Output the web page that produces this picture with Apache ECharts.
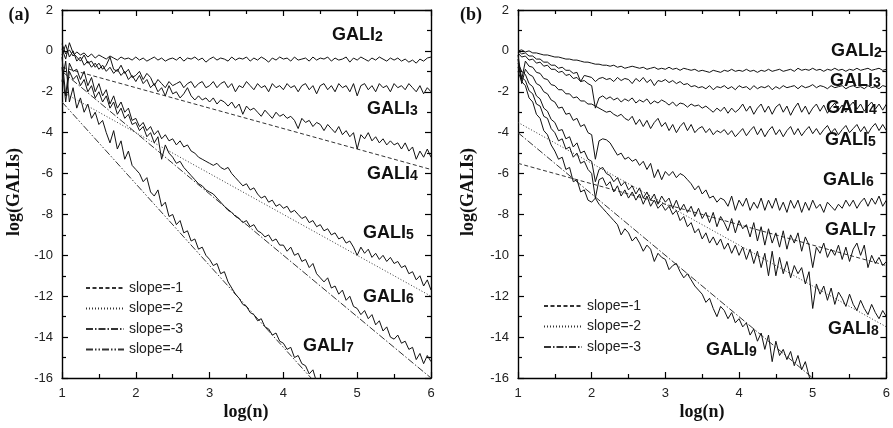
<!DOCTYPE html>
<html><head><meta charset="utf-8">
<script src="https://cdn.jsdelivr.net/npm/echarts@6/dist/echarts.min.js"></script>
<style>html,body{margin:0;padding:0;background:#fff}#c{width:893px;height:428px}</style>
</head><body><div id="c"></div>
<script>
// ---- shared x grid: log(n) ----
const logN = [1.00,1.05,1.10,1.15,1.20,1.25,1.30,1.35,1.40,1.45,
  1.50,1.55,1.60,1.65,1.70,1.75,1.80,1.85,1.90,1.95,
  2.00,2.05,2.10,2.15,2.20,2.25,2.30,2.35,2.40,2.45,
  2.50,2.55,2.60,2.65,2.70,2.75,2.80,2.85,2.90,2.95,
  3.00,3.05,3.10,3.15,3.20,3.25,3.30,3.35,3.40,3.45,
  3.50,3.55,3.60,3.65,3.70,3.75,3.80,3.85,3.90,3.95,
  4.00,4.05,4.10,4.15,4.20,4.25,4.30,4.35,4.40,4.45,
  4.50,4.55,4.60,4.65,4.70,4.75,4.80,4.85,4.90,4.95,
  5.00,5.05,5.10,5.15,5.20,5.25,5.30,5.35,5.40,5.45,
  5.50,5.55,5.60,5.65,5.70,5.75,5.80,5.85,5.90,5.95,
  6.00];

// ---- panel (a) ----
const aGALI2 = [0.35,-0.15,0.05,-0.25,-0.05,-0.2,-0.1,-0.3,-0.15,-0.35,
  -0.2,-0.3,-0.4,-0.25,-0.35,-0.45,-0.3,-0.4,-0.35,-0.45,
  -0.3,-0.45,-0.35,-0.5,-0.4,-0.3,-0.45,-0.35,-0.5,-0.4,
  -0.35,-0.45,-0.3,-0.5,-0.35,-0.4,-0.3,-0.45,-0.35,-0.55,
  -0.4,-0.3,-0.45,-0.35,-0.4,-0.5,-0.3,-0.45,-0.35,-0.4,
  -0.3,-0.5,-0.35,-0.45,-0.3,-0.4,-0.55,-0.35,-0.45,-0.3,
  -0.4,-0.35,-0.5,-0.3,-0.45,-0.4,-0.35,-0.5,-0.3,-0.45,
  -0.35,-0.4,-0.3,-0.5,-0.35,-0.45,-0.4,-0.3,-0.55,-0.35,
  -0.45,-0.3,-0.4,-0.5,-0.35,-0.45,-0.3,-0.4,-0.5,-0.35,
  -0.45,-0.35,-0.5,-0.4,-0.55,-0.45,-0.6,-0.4,-0.5,-0.35,
  -0.3];
const aGALI3 = [0.1,-0.4,0.4,-0.1,-0.3,-0.5,-0.2,-0.6,-0.5,-0.8,
  -0.6,-0.9,-0.7,-0.3,-0.9,-1.0,-0.7,-1.1,-0.9,-1.3,
  -1.2,-1.0,-1.4,-1.1,-1.3,-1.7,-1.4,-1.6,-1.8,-1.5,
  -1.7,-1.6,-1.5,-1.8,-1.6,-1.5,-1.8,-1.6,-1.5,-1.8,
  -1.7,-1.5,-1.8,-1.6,-1.5,-1.8,-1.6,-2.0,-1.7,-1.8,
  -1.5,-1.7,-1.9,-1.6,-1.8,-1.7,-2.0,-1.6,-1.8,-1.7,
  -1.9,-1.6,-1.8,-1.7,-2.0,-1.7,-1.6,-1.9,-1.7,-2.1,
  -1.7,-1.6,-1.9,-1.7,-2.0,-1.6,-1.8,-1.7,-2.0,-1.6,
  -2.2,-1.7,-1.6,-1.9,-1.7,-2.0,-1.6,-1.8,-1.7,-2.0,
  -1.6,-1.8,-1.7,-1.9,-1.6,-1.8,-2.0,-1.7,-2.1,-1.8,
  -2.0];
const aGALI4 = [-0.2,0.3,-0.3,0.0,-0.5,-0.3,-0.7,-0.5,-0.8,-0.6,
  -0.9,-0.7,-1.0,-0.8,-1.1,-0.9,-1.2,-1.0,-1.4,-1.2,
  -1.5,-1.2,-1.6,-1.4,-1.8,-1.6,-2.0,-1.8,-2.2,-1.7,
  -2.1,-2.0,-2.3,-2.1,-1.8,-2.2,-2.4,-2.2,-2.4,-2.3,
  -2.5,-2.3,-2.6,-2.4,-2.5,-2.7,-2.5,-2.8,-2.6,-3.1,
  -2.7,-2.9,-2.8,-3.0,-3.2,-2.9,-3.1,-3.3,-3.0,-3.2,
  -3.1,-3.3,-3.2,-3.4,-3.8,-3.3,-3.5,-3.4,-3.7,-3.5,
  -3.6,-3.9,-3.6,-3.8,-4.0,-3.7,-4.1,-3.9,-4.2,-4.0,
  -4.8,-4.1,-4.3,-4.0,-4.4,-4.2,-4.5,-4.3,-4.6,-4.4,
  -4.6,-4.5,-4.8,-4.5,-4.9,-4.7,-5.3,-4.9,-5.2,-4.8,
  -5.2];
const aGALI5 = [-0.3,-2.2,-0.6,-1.0,-0.9,-1.4,-1.0,-1.7,-1.3,-2.0,
  -1.6,-2.2,-1.9,-2.6,-2.2,-2.8,-2.5,-3.0,-2.8,-3.4,
  -3.3,-3.7,-3.5,-3.9,-3.7,-4.1,-3.9,-4.3,-4.1,-4.4,
  -4.3,-4.6,-4.4,-4.7,-4.6,-4.9,-5.0,-5.2,-5.3,-5.4,
  -5.5,-5.6,-5.5,-5.7,-5.8,-5.7,-6.0,-6.2,-6.4,-6.6,
  -6.5,-6.8,-6.7,-7.0,-7.2,-7.1,-7.4,-7.3,-7.6,-7.5,
  -7.7,-7.6,-7.9,-7.8,-8.0,-8.2,-8.1,-8.4,-8.3,-8.6,
  -8.5,-8.8,-8.7,-9.0,-8.9,-9.2,-9.1,-9.4,-9.3,-9.6,
  -10.0,-9.6,-9.9,-9.7,-10.1,-9.9,-10.2,-10.0,-10.3,-10.1,
  -10.4,-10.3,-10.6,-10.5,-10.9,-10.8,-11.2,-11.0,-11.5,-11.2,
  -11.7];
const aGALI6 = [-0.8,-2.5,-1.0,-1.4,-1.2,-1.7,-1.4,-2.0,-1.7,-2.3,
  -2.0,-2.5,-2.2,-2.8,-2.5,-3.1,-2.8,-3.3,-3.1,-3.6,
  -3.5,-3.9,-3.7,-4.2,-4.0,-4.5,-4.2,-5.3,-4.6,-5.0,
  -5.2,-5.5,-5.4,-5.7,-5.9,-6.1,-6.3,-6.5,-6.6,-6.8,
  -6.9,-7.0,-7.2,-7.4,-7.6,-7.8,-7.9,-8.1,-8.2,-8.4,
  -8.3,-8.6,-8.5,-8.8,-8.9,-9.1,-9.0,-9.3,-9.2,-9.5,
  -9.5,-9.8,-9.6,-10.0,-9.9,-10.3,-10.2,-10.6,-10.4,-10.9,
  -11.1,-11.3,-11.1,-11.6,-11.5,-11.9,-11.7,-12.2,-12.0,-12.5,
  -12.6,-12.9,-12.7,-13.1,-12.9,-13.4,-13.2,-13.7,-13.5,-14.0,
  -14.1,-13.9,-14.3,-14.2,-14.6,-14.5,-15.1,-14.8,-15.3,-14.9,
  -15.2];
const aGALI7 = [-1.5,-0.5,-2.5,-1.8,-2.8,-2.3,-3.0,-2.6,-3.3,-3.0,
  -3.6,-3.4,-4.0,-4.5,-3.9,-4.8,-4.4,-5.3,-4.9,-5.6,
  -5.8,-6.0,-6.4,-6.2,-6.9,-7.1,-6.8,-7.6,-7.4,-8.1,
  -8.0,-8.5,-8.3,-8.9,-8.8,-9.3,-9.2,-9.7,-9.6,-10.0,
  -10.2,-10.5,-10.4,-10.9,-10.8,-11.3,-11.6,-11.9,-12.1,-12.4,
  -12.5,-12.8,-12.9,-13.2,-13.1,-13.5,-13.6,-13.9,-13.8,-14.2,
  -14.3,-14.6,-14.5,-15.0,-14.9,-15.3,-15.4,-15.8,-15.6,-16.2,
  -16.5];
// reference power-law lines of panel (a): [log n, log GALI] end points
const aSlope1 = [[1,-0.8],[6,-5.8]];
const aSlope2 = [[1,-2.0],[6,-12.0]];
const aSlope3 = [[1,-1.0],[6,-16.0]];
const aSlope4 = [[1,-2.5],[4.375,-16.0]];

// ---- panel (b) ----
const bGALI2 = [0.0,0.05,-0.05,0.0,-0.1,-0.1,-0.15,-0.2,-0.2,-0.25,
  -0.3,-0.3,-0.35,-0.4,-0.4,-0.45,-0.45,-0.5,-0.55,-0.55,
  -0.6,-0.65,-0.65,-0.7,-0.7,-0.75,-0.7,-0.8,-0.75,-0.85,
  -0.8,-0.75,-0.8,-0.85,-0.8,-0.9,-0.85,-0.8,-0.9,-0.85,
  -0.9,-0.8,-0.9,-0.85,-0.95,-0.85,-0.9,-0.95,-0.9,-1.0,
  -0.95,-1.0,-1.05,-0.95,-1.0,-1.05,-0.95,-1.0,-0.9,-1.0,
  -0.95,-1.0,-0.9,-1.0,-0.95,-1.05,-0.95,-1.0,-0.9,-1.0,
  -0.95,-0.9,-1.0,-0.95,-0.9,-1.0,-0.85,-0.95,-0.9,-0.95,
  -0.85,-0.95,-0.9,-1.0,-0.9,-0.95,-0.85,-0.95,-0.9,-1.0,
  -0.9,-0.95,-0.85,-0.95,-0.9,-0.85,-0.95,-0.9,-0.85,-0.95,
  -0.9];
const bGALI3 = [0.0,-0.15,-0.1,-0.25,-0.25,-0.4,-0.4,-0.55,-0.55,-0.7,
  -0.7,-0.85,-0.8,-0.95,-0.95,-1.1,-1.05,-1.5,-1.2,-1.25,
  -1.3,-1.5,-1.35,-1.3,-1.4,-1.35,-1.5,-1.3,-1.45,-1.35,
  -1.4,-1.6,-1.35,-1.5,-1.3,-1.55,-1.4,-1.7,-1.45,-1.5,
  -1.4,-1.55,-1.45,-1.6,-1.5,-1.65,-1.6,-1.75,-1.7,-1.8,
  -1.75,-1.85,-1.7,-1.9,-1.75,-1.8,-1.7,-1.85,-1.75,-1.9,
  -1.7,-1.8,-1.75,-1.9,-1.7,-1.85,-1.75,-1.8,-1.7,-1.9,
  -1.75,-1.85,-1.7,-1.8,-1.75,-1.7,-1.85,-1.7,-1.8,-1.75,
  -1.65,-1.8,-1.7,-1.75,-1.85,-1.7,-1.8,-1.75,-1.7,-1.85,
  -1.75,-1.7,-1.8,-1.75,-1.85,-1.7,-1.8,-1.75,-1.85,-1.7,
  -1.75];
const bGALI4 = [-0.1,-0.3,-0.25,-0.45,-0.4,-0.6,-0.55,-0.75,-0.7,-0.9,
  -0.9,-1.05,-1.0,-1.2,-1.15,-1.35,-1.3,-1.5,-1.45,-1.6,
  -1.7,-2.8,-2.3,-2.2,-2.35,-2.25,-2.4,-2.3,-2.5,-2.35,
  -2.45,-2.3,-2.55,-2.4,-2.5,-2.35,-2.6,-2.45,-2.55,-2.4,
  -2.5,-2.65,-2.5,-2.7,-2.55,-2.6,-2.75,-2.6,-2.7,-2.65,
  -2.8,-2.7,-2.85,-3.0,-2.8,-2.95,-2.75,-3.05,-2.8,-3.0,
  -2.85,-2.6,-2.95,-2.7,-3.1,-2.8,-2.6,-3.0,-2.7,-3.1,
  -2.75,-2.6,-3.0,-2.7,-3.15,-2.8,-2.55,-3.0,-2.7,-3.1,
  -2.8,-2.6,-2.95,-2.65,-3.05,-2.75,-2.55,-2.9,-2.65,-3.0,
  -2.7,-2.5,-2.85,-2.6,-2.95,-2.7,-2.5,-2.85,-2.6,-2.9,
  -2.6];
const bGALI5 = [-0.2,-1.4,-0.5,-0.75,-0.8,-1.05,-1.1,-1.35,-1.4,-1.65,
  -1.7,-1.9,-1.9,-2.1,-2.1,-2.3,-2.25,-2.45,-2.45,-2.6,
  -2.6,-2.7,-2.8,-2.9,-3.0,-2.95,-3.1,-3.2,-3.1,-3.3,
  -3.4,-3.2,-3.6,-3.35,-3.7,-3.4,-3.8,-3.5,-3.3,-3.7,
  -3.5,-3.9,-3.6,-4.0,-3.7,-3.5,-3.9,-3.6,-4.0,-3.8,
  -3.7,-4.0,-3.8,-4.1,-3.9,-4.0,-3.85,-4.1,-3.9,-4.2,
  -4.0,-3.8,-4.15,-3.9,-3.7,-4.1,-3.8,-4.2,-3.9,-3.7,
  -4.1,-3.85,-4.2,-3.9,-3.7,-4.1,-3.8,-4.15,-3.9,-3.7,
  -4.05,-3.8,-4.1,-3.85,-3.65,-4.0,-3.8,-4.1,-3.85,-3.65,
  -4.0,-3.8,-3.6,-3.95,-3.7,-4.05,-3.75,-3.55,-3.9,-3.6,
  -3.9];
const bGALI6 = [-0.4,-1.6,-0.9,-1.15,-1.25,-1.6,-1.7,-2.0,-2.1,-2.4,
  -2.5,-2.8,-2.75,-3.1,-3.05,-3.4,-3.3,-3.7,-3.6,-4.0,
  -4.1,-5.3,-4.4,-4.3,-4.35,-4.5,-4.8,-5.1,-5.0,-5.3,
  -5.2,-5.4,-5.3,-5.6,-5.4,-5.8,-5.5,-6.2,-5.8,-6.3,
  -5.9,-6.1,-5.9,-6.2,-6.0,-6.1,-6.3,-6.5,-6.8,-6.6,
  -7.0,-6.8,-7.2,-7.1,-7.4,-7.2,-7.3,-7.6,-7.1,-7.8,
  -7.3,-7.6,-7.2,-7.8,-7.4,-7.7,-7.2,-7.8,-7.3,-7.7,
  -7.2,-7.8,-7.4,-7.9,-7.3,-7.7,-7.3,-7.9,-7.4,-7.8,
  -7.3,-7.7,-7.5,-7.9,-7.4,-7.6,-7.8,-7.5,-7.7,-7.3,
  -7.6,-7.3,-7.7,-7.4,-7.2,-7.6,-7.2,-7.5,-7.1,-7.6,
  -7.3];
const bGALI7 = [-0.6,-1.0,-1.15,-1.6,-1.75,-2.2,-2.35,-2.8,-2.95,-3.35,
  -3.5,-3.9,-3.85,-4.3,-4.2,-4.7,-4.5,-5.0,-4.9,-5.3,
  -5.4,-6.4,-5.8,-5.7,-6.0,-6.1,-6.4,-6.2,-6.6,-6.4,
  -6.8,-6.6,-7.0,-6.7,-7.2,-6.9,-7.3,-7.0,-7.5,-7.1,
  -7.4,-7.2,-7.7,-7.3,-7.8,-7.5,-7.9,-7.6,-8.1,-7.7,
  -8.2,-7.9,-8.4,-7.9,-8.6,-8.1,-8.4,-8.8,-8.2,-8.9,
  -8.3,-8.7,-8.5,-9.1,-8.4,-9.3,-8.6,-9.5,-8.7,-9.4,
  -8.9,-9.6,-8.8,-9.7,-9.0,-9.4,-8.9,-9.8,-9.1,-9.5,
  -10.6,-9.6,-9.9,-9.4,-10.1,-9.7,-10.0,-9.5,-10.2,-9.6,
  -10.3,-9.7,-9.4,-10.0,-9.5,-10.6,-10.0,-10.4,-10.1,-10.5,
  -10.3];
const bGALI8 = [-0.8,-1.3,-1.45,-1.95,-2.1,-2.6,-2.7,-3.2,-3.3,-3.8,
  -4.0,-4.4,-4.3,-4.8,-4.7,-5.2,-5.0,-5.5,-5.4,-5.8,
  -6.0,-7.2,-6.3,-6.2,-6.6,-6.4,-6.9,-6.6,-7.1,-6.8,
  -7.2,-6.9,-7.3,-7.0,-7.5,-7.1,-7.6,-7.3,-7.7,-7.5,
  -7.8,-7.6,-8.0,-7.8,-8.3,-8.1,-8.6,-8.4,-8.9,-8.7,
  -9.2,-8.9,-9.4,-9.1,-9.5,-9.2,-9.7,-9.4,-9.9,-9.5,
  -10.0,-9.6,-10.2,-9.7,-10.4,-9.8,-10.6,-9.9,-11.0,-9.8,
  -11.0,-10.1,-10.9,-10.3,-11.1,-10.5,-10.9,-10.6,-11.4,-10.8,
  -12.6,-11.4,-11.9,-11.5,-12.2,-11.6,-12.4,-11.8,-12.1,-12.5,
  -11.9,-12.4,-12.7,-12.2,-12.6,-12.9,-12.4,-12.8,-13.1,-12.7,
  -13.0];
const bGALI9 = [-1.0,-1.5,-1.7,-2.3,-2.5,-3.1,-3.3,-3.9,-4.1,-4.6,
  -4.9,-5.3,-5.2,-5.8,-5.7,-6.4,-6.3,-6.9,-6.8,-7.3,
  -7.4,-7.2,-7.5,-7.7,-7.9,-8.1,-8.3,-8.5,-9.0,-8.7,
  -8.9,-9.3,-9.1,-9.4,-9.8,-9.5,-9.7,-10.3,-9.9,-10.1,
  -10.2,-10.7,-10.5,-10.4,-10.8,-11.1,-10.9,-11.2,-11.5,-11.7,
  -11.9,-12.3,-12.1,-12.6,-13.0,-12.5,-12.7,-13.1,-12.8,-13.3,
  -13.1,-13.5,-13.3,-13.9,-13.6,-14.2,-13.8,-14.6,-13.9,-15.2,
  -14.2,-14.9,-14.6,-15.1,-14.7,-15.4,-14.9,-15.6,-15.2,-15.9,
  -16.4];
const bSlope1 = [[1,-5.5],[6,-10.5]];
const bSlope2 = [[1,-3.5],[6,-13.5]];
const bSlope3 = [[1,-4.0],[5,-16.0]];

const xTicks = [1,2,3,4,5,6];
const yTicks = [2,0,-2,-4,-6,-8,-10,-12,-14,-16];
const slopeNames = ['slope=-1','slope=-2','slope=-3','slope=-4'];

// ---- build ----
const pair = ys => ys.map((y, i) => [logN[i], y]);
const dashes = {
  'slope=-1': [4, 2.5],
  'slope=-2': [1, 2],
  'slope=-3': [7, 2, 1.5, 2],
  'slope=-4': [7, 2, 1.5, 2, 1.5, 2]
};

function xAx(g, pos, lab) {
  return {type:'value', gridIndex:g, position:pos, min:xTicks[0], max:xTicks[xTicks.length-1], interval:1,
    axisLine:{show:true, onZero:false, lineStyle:{color:'#000', width:1.4}},
    axisTick:{show:true, inside:true, length:6, lineStyle:{color:'#000', width:1.2}},
    minorTick:{show:true, splitNumber:2, length:4, lineStyle:{color:'#000', width:1.2}},
    splitLine:{show:false}, minorSplitLine:{show:false},
    axisLabel:{show:lab, fontFamily:'Liberation Sans', fontSize:13, color:'#222', margin:9}};
}
function yAx(g, pos, lab) {
  return {type:'value', gridIndex:g, position:pos, min:yTicks[yTicks.length-1], max:yTicks[0], interval:2,
    axisLine:{show:true, onZero:false, lineStyle:{color:'#000', width:1.4}},
    axisTick:{show:true, inside:true, length:6, lineStyle:{color:'#000', width:1.2}},
    minorTick:{show:true, splitNumber:2, length:4, lineStyle:{color:'#000', width:1.2}},
    splitLine:{show:false}, minorSplitLine:{show:false},
    axisLabel:{show:lab, fontFamily:'Liberation Sans', fontSize:13, color:'#222', margin:9}};
}

const series = [];
function curve(ys, xi, yi) {
  series.push({type:'line', xAxisIndex:xi, yAxisIndex:yi, data:pair(ys), symbol:'none', showSymbol:false,
    silent:true, animation:false, lineStyle:{color:'#111', width:1}, itemStyle:{color:'#111'}, z:3});
}
function ref(name, pts, xi, yi) {
  series.push({type:'line', name, xAxisIndex:xi, yAxisIndex:yi, data:pts, symbol:'none', showSymbol:false,
    silent:true, animation:false, lineStyle:{color:'#333', width:1, type:dashes[name]},
    itemStyle:{color:'#333', opacity:0}, z:2});
}
[aGALI2,aGALI3,aGALI4,aGALI5,aGALI6,aGALI7].forEach(s => curve(s, 0, 0));
ref(slopeNames[0], aSlope1, 0, 0);
ref(slopeNames[1], aSlope2, 0, 0);
ref(slopeNames[2], aSlope3, 0, 0);
ref(slopeNames[3], aSlope4, 0, 0);
[bGALI2,bGALI3,bGALI4,bGALI5,bGALI6,bGALI7,bGALI8,bGALI9].forEach(s => curve(s, 2, 2));
ref(slopeNames[0], bSlope1, 2, 2);
ref(slopeNames[1], bSlope2, 2, 2);
ref(slopeNames[2], bSlope3, 2, 2);

const rich = {
  g:{fontFamily:'Liberation Sans', fontWeight:'bold', fontSize:18, lineHeight:18, verticalAlign:'top', fill:'#111'},
  s:{fontFamily:'Liberation Sans', fontWeight:'bold', fontSize:14, lineHeight:14, verticalAlign:'bottom', padding:[10,0,0,0], fill:'#111'}
};
function gali(n, x, y) {
  return {type:'text', x, y, silent:true, z:10,
    style:{text:'{g|GALI}{s|' + n + '}', rich, align:'left', verticalAlign:'top'}};
}
function title(t, x, y, rot) {
  return {type:'text', x, y, rotation:rot || 0, silent:true,
    style:{text:t, font:'bold 18px "Liberation Serif"', fill:'#111', align:'center', verticalAlign:'middle'}};
}

const labelsA = [[2,332,26],[3,367,100],[4,367,165],[5,363,224],[6,363,288],[7,303,337]];
const labelsB = [[2,831,42],[3,830,72],[4,826,99],[5,825,131],[6,823,171],[7,825,221],[8,828,320],[9,706,341]];

const graphic = [
  title('(a)', 19, 15), title('(b)', 471, 15),
  title('log(n)', 246, 412), title('log(n)', 702, 412),
  title('log(GALIs)', 14, 192, Math.PI/2), title('log(GALIs)', 468, 192, Math.PI/2)
].concat(labelsA.map(l => gali(l[0], l[1], l[2]))).concat(labelsB.map(l => gali(l[0], l[1], l[2])));

const legendBase = {orient:'vertical', itemWidth:38, itemHeight:12, itemGap:6.5, padding:0, selectedMode:false,
  itemStyle:{opacity:0},
  textStyle:{fontFamily:'Liberation Sans', fontSize:14, color:'#222'}};

const chart = echarts.init(document.getElementById('c'), null, {renderer:'canvas'});
chart.setOption({
  animation:false,
  backgroundColor:'#fff',
  grid:[{left:62, top:10, width:369, height:368}, {left:518, top:10, width:369, height:368}],
  xAxis:[xAx(0,'bottom',true), xAx(0,'top',false), xAx(1,'bottom',true), xAx(1,'top',false)],
  yAxis:[yAx(0,'left',true), yAx(0,'right',false), yAx(1,'left',true), yAx(1,'right',false)],
  legend:[
    Object.assign({left:85, top:281, data:slopeNames}, legendBase),
    Object.assign({left:543, top:299, data:slopeNames.slice(0,3)}, legendBase)
  ],
  series,
  graphic
});
</script></body></html>
